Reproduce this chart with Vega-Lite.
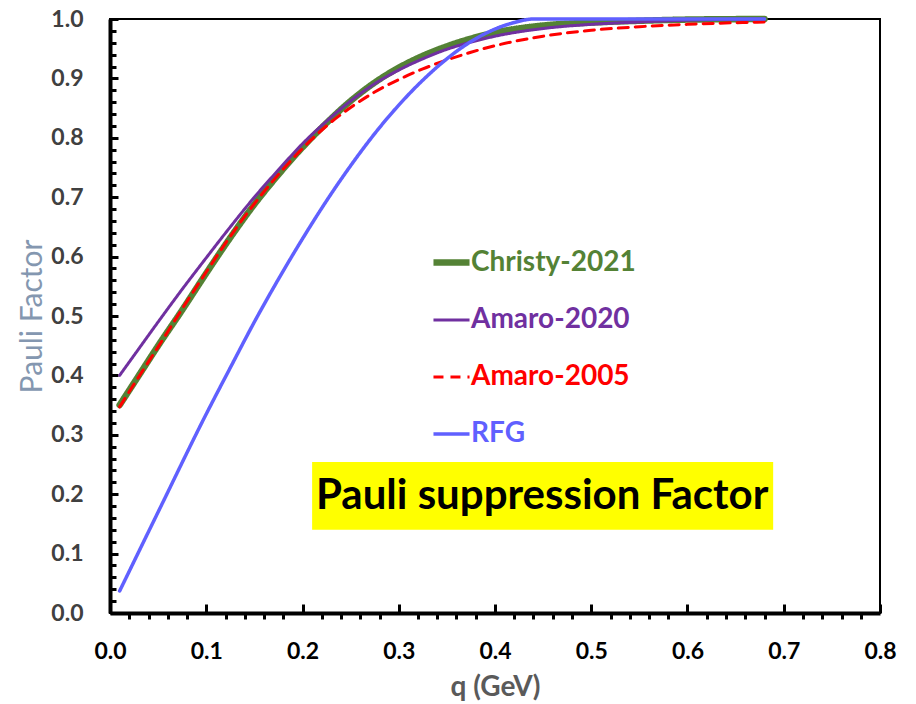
{
  "$schema": "https://vega.github.io/schema/vega-lite/v6.json",
  "width": 770,
  "height": 594,
  "autosize": "none",
  "padding": {"left": 110, "top": 19, "right": 36, "bottom": 91},
  "background": "white",
  "config": {
    "view": {"stroke": "black", "strokeWidth": 2},
    "font": "Lato"
  },
  "data": {
    "values": [
      {"series": "Christy-2021", "q": 0.01, "P": 0.35},
      {"series": "Christy-2021", "q": 0.03, "P": 0.40},
      {"series": "Christy-2021", "q": 0.05, "P": 0.45},
      {"series": "Christy-2021", "q": 0.075, "P": 0.51},
      {"series": "Christy-2021", "q": 0.1, "P": 0.572},
      {"series": "Christy-2021", "q": 0.125, "P": 0.632},
      {"series": "Christy-2021", "q": 0.15, "P": 0.688},
      {"series": "Christy-2021", "q": 0.175, "P": 0.738},
      {"series": "Christy-2021", "q": 0.2, "P": 0.784},
      {"series": "Christy-2021", "q": 0.225, "P": 0.825},
      {"series": "Christy-2021", "q": 0.25, "P": 0.862},
      {"series": "Christy-2021", "q": 0.275, "P": 0.893},
      {"series": "Christy-2021", "q": 0.3, "P": 0.918},
      {"series": "Christy-2021", "q": 0.325, "P": 0.938},
      {"series": "Christy-2021", "q": 0.35, "P": 0.954},
      {"series": "Christy-2021", "q": 0.375, "P": 0.967},
      {"series": "Christy-2021", "q": 0.4, "P": 0.977},
      {"series": "Christy-2021", "q": 0.45, "P": 0.989},
      {"series": "Christy-2021", "q": 0.5, "P": 0.994},
      {"series": "Christy-2021", "q": 0.55, "P": 0.997},
      {"series": "Christy-2021", "q": 0.6, "P": 0.999},
      {"series": "Christy-2021", "q": 0.68, "P": 1.0},
      {"series": "Amaro-2020", "q": 0.01, "P": 0.40},
      {"series": "Amaro-2020", "q": 0.03, "P": 0.445},
      {"series": "Amaro-2020", "q": 0.05, "P": 0.49},
      {"series": "Amaro-2020", "q": 0.075, "P": 0.545},
      {"series": "Amaro-2020", "q": 0.1, "P": 0.598},
      {"series": "Amaro-2020", "q": 0.125, "P": 0.65},
      {"series": "Amaro-2020", "q": 0.15, "P": 0.70},
      {"series": "Amaro-2020", "q": 0.175, "P": 0.746},
      {"series": "Amaro-2020", "q": 0.2, "P": 0.79},
      {"series": "Amaro-2020", "q": 0.225, "P": 0.828},
      {"series": "Amaro-2020", "q": 0.25, "P": 0.862},
      {"series": "Amaro-2020", "q": 0.275, "P": 0.891},
      {"series": "Amaro-2020", "q": 0.3, "P": 0.914},
      {"series": "Amaro-2020", "q": 0.325, "P": 0.933},
      {"series": "Amaro-2020", "q": 0.35, "P": 0.949},
      {"series": "Amaro-2020", "q": 0.375, "P": 0.961},
      {"series": "Amaro-2020", "q": 0.4, "P": 0.971},
      {"series": "Amaro-2020", "q": 0.45, "P": 0.984},
      {"series": "Amaro-2020", "q": 0.5, "P": 0.991},
      {"series": "Amaro-2020", "q": 0.55, "P": 0.995},
      {"series": "Amaro-2020", "q": 0.6, "P": 0.998},
      {"series": "Amaro-2020", "q": 0.68, "P": 1.0},
      {"series": "Amaro-2005", "q": 0.01, "P": 0.347},
      {"series": "Amaro-2005", "q": 0.03, "P": 0.398},
      {"series": "Amaro-2005", "q": 0.05, "P": 0.448},
      {"series": "Amaro-2005", "q": 0.075, "P": 0.512},
      {"series": "Amaro-2005", "q": 0.1, "P": 0.574},
      {"series": "Amaro-2005", "q": 0.125, "P": 0.634},
      {"series": "Amaro-2005", "q": 0.15, "P": 0.689},
      {"series": "Amaro-2005", "q": 0.175, "P": 0.738},
      {"series": "Amaro-2005", "q": 0.2, "P": 0.782},
      {"series": "Amaro-2005", "q": 0.225, "P": 0.82},
      {"series": "Amaro-2005", "q": 0.25, "P": 0.851},
      {"series": "Amaro-2005", "q": 0.275, "P": 0.877},
      {"series": "Amaro-2005", "q": 0.3, "P": 0.898},
      {"series": "Amaro-2005", "q": 0.325, "P": 0.916},
      {"series": "Amaro-2005", "q": 0.35, "P": 0.931},
      {"series": "Amaro-2005", "q": 0.375, "P": 0.944},
      {"series": "Amaro-2005", "q": 0.4, "P": 0.955},
      {"series": "Amaro-2005", "q": 0.45, "P": 0.971},
      {"series": "Amaro-2005", "q": 0.5, "P": 0.981},
      {"series": "Amaro-2005", "q": 0.55, "P": 0.987},
      {"series": "Amaro-2005", "q": 0.6, "P": 0.991},
      {"series": "Amaro-2005", "q": 0.68, "P": 0.995},
      {"series": "RFG", "q": 0.01, "P": 0.037},
      {"series": "RFG", "q": 0.05, "P": 0.17},
      {"series": "RFG", "q": 0.1, "P": 0.335},
      {"series": "RFG", "q": 0.125, "P": 0.413},
      {"series": "RFG", "q": 0.15, "P": 0.49},
      {"series": "RFG", "q": 0.175, "P": 0.562},
      {"series": "RFG", "q": 0.2, "P": 0.63},
      {"series": "RFG", "q": 0.225, "P": 0.694},
      {"series": "RFG", "q": 0.25, "P": 0.753},
      {"series": "RFG", "q": 0.275, "P": 0.807},
      {"series": "RFG", "q": 0.3, "P": 0.855},
      {"series": "RFG", "q": 0.325, "P": 0.897},
      {"series": "RFG", "q": 0.35, "P": 0.933},
      {"series": "RFG", "q": 0.375, "P": 0.962},
      {"series": "RFG", "q": 0.4, "P": 0.983},
      {"series": "RFG", "q": 0.42, "P": 0.994},
      {"series": "RFG", "q": 0.44, "P": 1.0},
      {"series": "RFG", "q": 0.5, "P": 1.0},
      {"series": "RFG", "q": 0.6, "P": 1.0},
      {"series": "RFG", "q": 0.68, "P": 1.0}
    ]
  },
  "layer": [
    {
      "data": {"values": [{"label": "Pauli suppression Factor"}]},
      "mark": {"type": "rect", "color": "#ffff00"},
      "encoding": {
        "x": {"datum": 0.21, "type": "quantitative", "scale": {"domain": [0, 0.8], "nice": false},
          "axis": {"orient": "bottom", "values": [0.02,0.04,0.06,0.08,0.12,0.14,0.16,0.18,0.22,0.24,0.26,0.28,0.32,0.34,0.36,0.38,0.42,0.44,0.46,0.48,0.52,0.54,0.56,0.58,0.62,0.64,0.66,0.68,0.72,0.74,0.76,0.78], "labels": false, "domain": false, "grid": false, "ticks": true, "tickSize": 6, "tickWidth": 3, "tickColor": "black", "title": null}},
        "x2": {"datum": 0.689},
        "y": {"datum": 0.254, "type": "quantitative", "scale": {"domain": [0, 1], "nice": false},
          "axis": {"orient": "left", "values": [0.02,0.04,0.06,0.08,0.12,0.14,0.16,0.18,0.22,0.24,0.26,0.28,0.32,0.34,0.36,0.38,0.42,0.44,0.46,0.48,0.52,0.54,0.56,0.58,0.62,0.64,0.66,0.68,0.72,0.74,0.76,0.78,0.82,0.84,0.86,0.88,0.92,0.94,0.96,0.98], "labels": false, "domain": false, "grid": false, "ticks": true, "tickSize": -6, "tickWidth": 3, "tickColor": "black", "title": null}},
        "y2": {"datum": 0.14}
      }
    },
    {
      "data": {"values": [{"label": "Pauli suppression Factor"}]},
      "mark": {"type": "text", "font": "Lato", "fontWeight": "bold", "fontSize": 42, "fill": "black", "align": "center", "baseline": "middle"},
      "encoding": {
        "text": {"field": "label"},
        "x": {"datum": 0.449, "type": "quantitative", "axis": null},
        "y": {"datum": 0.197, "type": "quantitative", "axis": null}
      }
    },
    {
      "mark": {"type": "line", "interpolate": "monotone", "strokeCap": "round"},
      "encoding": {
        "x": {"field": "q", "type": "quantitative",
          "axis": {"orient": "bottom", "values": [0,0.1,0.2,0.3,0.4,0.5,0.6,0.7,0.8], "format": ".1f", "grid": false, "labelFlush": false, "domainColor": "black", "domainWidth": 4, "tickColor": "black", "tickWidth": 3, "tickSize": -9, "labelPadding": 36, "labelFont": "Lato", "labelFontWeight": "bold", "labelFontSize": 23, "labelColor": "black", "title": "q (GeV)", "titleFont": "Lato", "titleFontSize": 28, "titleFontWeight": "bold", "titleColor": "#5a5a5a", "titlePadding": 10}},
        "y": {"field": "P", "type": "quantitative",
          "axis": {"orient": "left", "values": [0,0.1,0.2,0.3,0.4,0.5,0.6,0.7,0.8,0.9,1.0], "format": ".1f", "grid": false, "labelFlush": false, "domainColor": "black", "domainWidth": 4, "tickColor": "black", "tickWidth": 3, "tickSize": -8, "labelPadding": 35, "labelFont": "Lato", "labelFontWeight": "bold", "labelFontSize": 23, "labelColor": "#404040", "title": "Pauli Factor", "titleFont": "Lato", "titleFontSize": 30, "titleFontWeight": "normal", "titleColor": "#8497b0", "titlePadding": 3}},
        "color": {"field": "series", "type": "nominal",
          "scale": {"domain": ["Christy-2021", "Amaro-2020", "Amaro-2005", "RFG"], "range": ["#548235", "#7030a0", "#ff0000", "#6060ff"]},
          "legend": {"orient": "none", "legendX": 320, "legendY": 222, "title": null, "symbolType": "stroke", "symbolSize": 1300, "rowPadding": 23, "labelFont": "Lato", "labelFontWeight": "bold", "labelFontSize": 28, "labelOffset": -2, "labelLimit": 400,
            "labelColor": {"expr": "datum.value === 'Christy-2021' ? '#548235' : datum.value === 'Amaro-2020' ? '#7030a0' : datum.value === 'Amaro-2005' ? '#ff0000' : '#6060ff'"}}},
        "strokeWidth": {"field": "series", "type": "nominal",
          "scale": {"type": "ordinal", "domain": ["Christy-2021", "Amaro-2020", "Amaro-2005", "RFG"], "range": [6.5, 3, 3, 3.5]}},
        "strokeDash": {"field": "series", "type": "nominal",
          "scale": {"domain": ["Christy-2021", "Amaro-2020", "Amaro-2005", "RFG"], "range": [[1, 0], [1, 0], [10, 7], [1, 0]]}},
        "order": {"field": "q", "type": "quantitative"}
      }
    }
  ],
  "resolve": {"axis": {"x": "independent", "y": "independent"}}
}
